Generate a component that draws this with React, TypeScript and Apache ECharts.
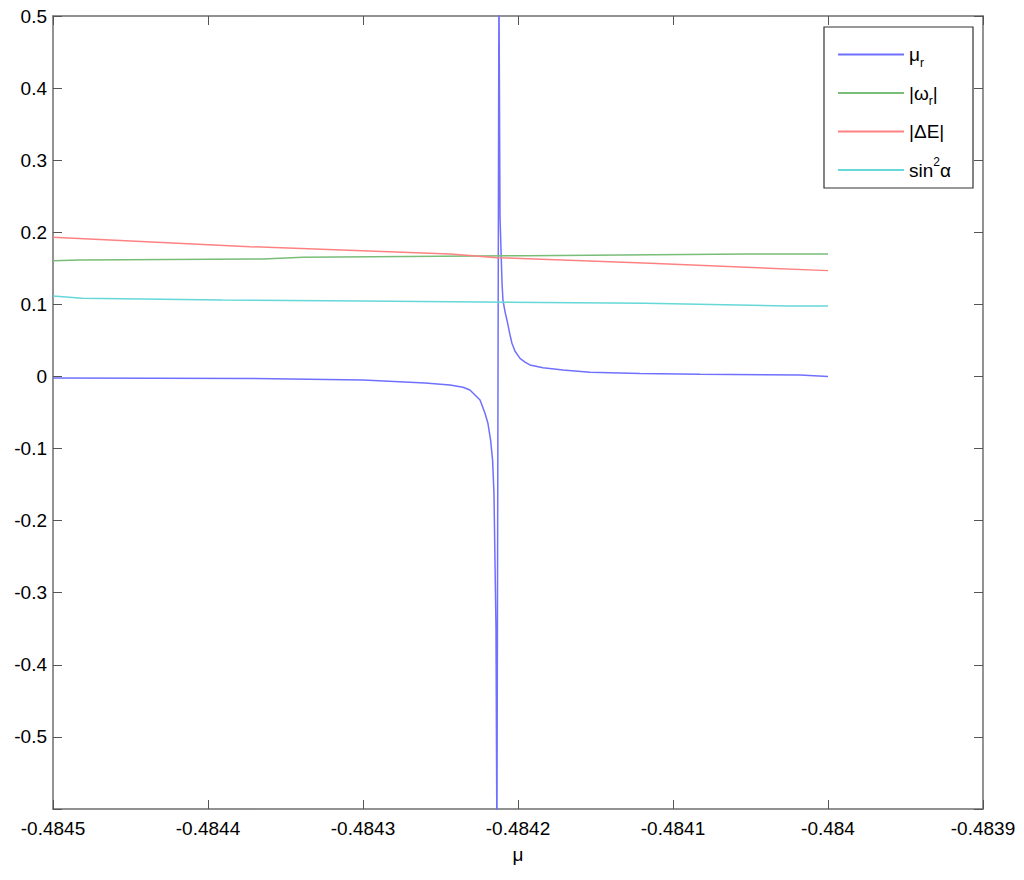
import React, { useEffect, useRef } from "react";
import * as echarts from "echarts";

// μr (blue)
const muX = [-0.4845, -0.48437, -0.4843, -0.48426, -0.4842439, -0.4842355, -0.484231, -0.4842245, -0.4842213, -0.4842194, -0.4842177, -0.4842164, -0.4842155, -0.4842142, -0.4842136, -0.4842123, -0.4842116, -0.4842103, -0.4842097, -0.4842084, -0.4842071, -0.4842052, -0.4842039, -0.4842019, -0.4841987, -0.4841955, -0.4841923, -0.4841839, -0.484171, -0.4841536, -0.4841213, -0.4840826, -0.4840181, -0.484];
const muY = [-0.002, -0.003, -0.005, -0.009, -0.012, -0.015, -0.0187, -0.0326, -0.051, -0.065, -0.088, -0.116, -0.162, -0.35, -0.65, 0.55, 0.221, 0.129, 0.106, 0.09, 0.078, 0.058, 0.046, 0.035, 0.025, 0.02, 0.016, 0.012, 0.009, 0.006, 0.004, 0.003, 0.002, 0.0];
// |ωr| (green)
const omegaX = [-0.4845, -0.4844826, -0.4843645, -0.4843387, -0.4841942, -0.4840516, -0.484];
const omegaY = [0.1606, 0.1615, 0.163, 0.1655, 0.1675, 0.17, 0.17];
// |ΔE| (red)
const deltaX = [-0.4845, -0.4843729, -0.4842439, -0.4842135, -0.4841148, -0.484];
const deltaY = [0.193, 0.18, 0.17, 0.1648, 0.157, 0.1468];
// sin²α (cyan)
const sinX = [-0.4845, -0.4844813, -0.484391, -0.4843006, -0.4841181, -0.4840265, -0.484];
const sinY = [0.1117, 0.1085, 0.106, 0.1047, 0.1015, 0.0978, 0.0978];

const seriesNames = ["μr", "|ωr|", "|ΔE|", "sin2α"];
const legendRich = ["{n|μ}{sub|r}", "{n||ω}{sub|r}{n||}", "{n||ΔE|}", "{n|sin}{sup|2}{n|α}"];
const seriesColors = ["#7070ff", "#78bd78", "#ff8282", "#66d8d8"];

const xMin = -0.4845;
const xMax = -0.4839;
const xStep = 0.0001;
const yMin = -0.6;
const yMax = 0.5;
const yStep = 0.1;

const FONT = "'Liberation Sans', Arial, Helvetica, sans-serif";

export default function App() {
  const ref = useRef<HTMLDivElement>(null);
  useEffect(() => {
    if (!ref.current) return;
    const chart = echarts.init(ref.current, undefined, { renderer: "svg" });
    const pairs = (xs: number[], ys: number[]) => xs.map((x, i) => [x, ys[i]]);
    const allData = [pairs(muX, muY), pairs(omegaX, omegaY), pairs(deltaX, deltaY), pairs(sinX, sinY)];
    const axisLine = { show: true, onZero: false, lineStyle: { color: "#6e6e6e", width: 1.5 } };
    const axisTick = { show: true, inside: true, length: 9, lineStyle: { color: "#555", width: 1 } };
    const labelStyle = { fontSize: 19, color: "#000", fontFamily: FONT };
    const option: any = {
      animation: false,
      backgroundColor: "#fff",
      grid: { left: 53, right: 41, top: 16, bottom: 71 },
      xAxis: [
        {
          type: "value",
          min: xMin,
          max: xMax,
          interval: xStep,
          position: "bottom",
          name: "μ",
          nameLocation: "middle",
          nameGap: 36,
          nameTextStyle: { fontSize: 19, color: "#000", fontFamily: FONT },
          axisLine,
          axisTick,
          axisLabel: {
            ...labelStyle,
            margin: 10,
            showMinLabel: true,
            showMaxLabel: true,
            formatter: (v: number) => String(+v.toFixed(4)),
          },
          splitLine: { show: false },
        },
        {
          type: "value",
          min: xMin,
          max: xMax,
          interval: xStep,
          position: "top",
          axisLine,
          axisTick,
          axisLabel: { show: false },
          splitLine: { show: false },
        },
      ],
      yAxis: [
        {
          type: "value",
          min: yMin,
          max: yMax,
          interval: yStep,
          position: "left",
          axisLine,
          axisTick,
          axisLabel: {
            ...labelStyle,
            margin: 6,
            showMinLabel: true,
            showMaxLabel: true,
            formatter: (v: number) => (Math.abs(v - yMin) < 1e-9 ? "" : String(+v.toFixed(1))),
          },
          splitLine: { show: false },
        },
        {
          type: "value",
          min: yMin,
          max: yMax,
          interval: yStep,
          position: "right",
          axisLine,
          axisTick,
          axisLabel: { show: false },
          splitLine: { show: false },
        },
      ],
      legend: {
        orient: "vertical",
        left: 824,
        top: 27,
        padding: [18, 10, 7, 13],
        itemWidth: 66,
        itemHeight: 14,
        itemGap: 15,
        data: seriesNames,
        itemStyle: { opacity: 0 },
        formatter: (name: string) => legendRich[seriesNames.indexOf(name)],
        textStyle: {
          color: "#000",
          fontFamily: FONT,
          fontSize: 19,
          rich: {
            n: { fontSize: 19, lineHeight: 28, fontFamily: FONT, color: "#000" },
            sub: { fontSize: 12, lineHeight: 14, verticalAlign: "bottom", fontFamily: FONT, color: "#000" },
            sup: { fontSize: 12, lineHeight: 14, verticalAlign: "top", fontFamily: FONT, color: "#000" },
          },
        },
      },
      graphic: [
        {
          type: "rect",
          shape: { x: 824, y: 27, width: 149, height: 161 },
          style: { fill: "none", stroke: "#333", lineWidth: 1.2 },
          z: 10,
        },
      ],
      series: seriesNames.map((name, i) => ({
        name,
        type: "line",
        xAxisIndex: 0,
        yAxisIndex: 0,
        symbol: "none",
        clip: true,
        color: seriesColors[i],
        lineStyle: { color: seriesColors[i], width: 1.5 },
        data: allData[i],
      })),
    };
    chart.setOption(option);
    return () => chart.dispose();
  }, []);
  return (
    <div
      ref={ref}
      style={{ position: "fixed", left: 0, top: 0, width: 1024, height: 880 }}
    />
  );
}
